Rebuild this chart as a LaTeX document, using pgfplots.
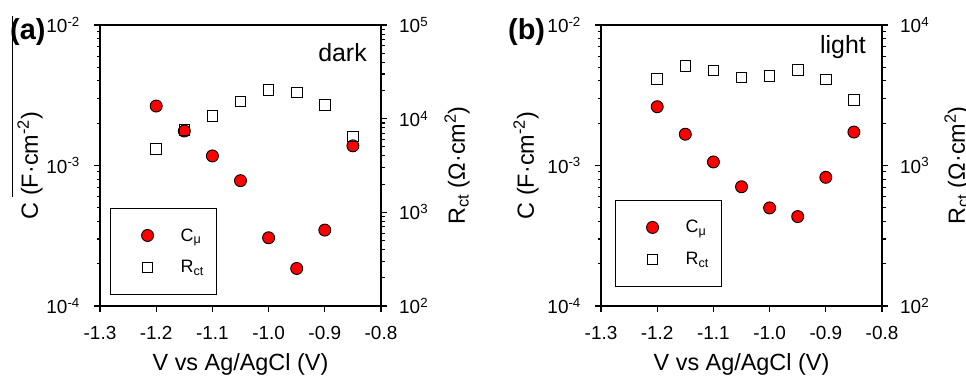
\documentclass[border=0pt]{standalone}
\usepackage{pgfplots}
\pgfplotsset{compat=1.18}
\usepackage{fontspec}
\setmainfont{Liberation Sans}
\newcommand{\fs}[1]{\fontsize{#1}{#1}\selectfont}
\pgfplotsset{
  every axis/.append style={scale only axis, width=281bp, height=281bp,
    xmin=-1.3, xmax=-0.8, clip=false,
    axis line style={line width=1.1bp},
    major tick length=6bp, minor tick length=3.5bp, tick align=outside,
    tick style={black, line width=1.1bp},
    every tick label/.append style={font=\fs{19}, inner sep=0pt},
    every axis label/.append style={font=\fs{23.5}}},
  mylegimg/.style={legend image code/.code={\path[draw=none,fill=none] (0bp,-10bp) rectangle (30bp,10bp);
      \draw[##1] plot coordinates {(24bp,0bp)};}},
  leftticks/.style={xticklabel style={yshift=-14bp}, yticklabel style={xshift=-14bp}},
  rightticks/.style={yticklabel style={xshift=12bp}},
}
\begin{document}
\begin{tikzpicture}[x=1bp,y=1bp]
\useasboundingbox (0,0) rectangle (966,378);
\draw[line width=0.8bp] (12,362) -- (12,181);
\node[anchor=north west, inner sep=0pt, font=\bfseries\fs{29}] at (10,360) {(a)};
\node[anchor=north west, inner sep=0pt, font=\bfseries\fs{29}] at (508,360) {(b)};

% ---------- panel (a) ----------
\begin{semilogyaxis}[at={(100bp,72bp)}, anchor=south west, leftticks,
    ymin=1e-4, ymax=1e-2, xtick pos=bottom, ytick pos=left,
    xtick={-1.3,-1.2,-1.1,-1.0,-0.9,-0.8},
    xticklabels={-1.3,-1.2,-1.1,-1.0,-0.9,-0.8},
    ytick={1e-4,1e-3,1e-2},
    yticklabels={10\textsuperscript{-4},10\textsuperscript{-3},10\textsuperscript{-2}},
    xlabel={V vs Ag/AgCl (V)},
    ylabel={C (F·cm\textsuperscript{-2})},
    xlabel style={at={(rel axis cs:0.5,0)}, anchor=north, inner sep=0pt, yshift=-47bp},
    ylabel style={at={(rel axis cs:0,0.5)}, anchor=center, yshift=70bp}]
\addplot[only marks, mark=*, mark size=6bp, mark options={draw=black, fill=red, line width=0.9bp}] table {
x y
-1.20 2.65e-3
-1.15 1.76e-3
-1.10 1.17e-3
-1.05 7.8e-4
-1.00 3.06e-4
-0.95 1.85e-4
-0.90 3.47e-4
-0.85 1.38e-3
};
\node[anchor=north east, inner sep=0pt, font=\fs{25}] at (rel axis cs:0.95,0.936) {dark};
\end{semilogyaxis}
\begin{semilogyaxis}[at={(100bp,72bp)}, anchor=south west, rightticks,
  axis x line=none, axis y line*=right, ytick pos=right,
  ymin=1e2, ymax=1e5, ytick={1e2,1e3,1e4,1e5},
  yticklabels={10\textsuperscript{2},10\textsuperscript{3},10\textsuperscript{4},10\textsuperscript{5}},
  ylabel={R\textsubscript{ct} (Ω·cm\textsuperscript{2})},
  ylabel style={at={(rel axis cs:1,0.5)}, anchor=center, yshift=-76bp},
  legend cell align=left,
  legend style={at={(rel axis cs:0.0356,0.039)}, anchor=south west, draw=black, line width=1.1bp,
      font=\fs{18}, inner xsep=13bp, inner ysep=17bp, row sep=12bp,
      nodes={inner sep=0pt},
      /tikz/every odd column/.append style={column sep=27bp}}]
\addlegendimage{only marks, mark=*, mark size=6bp, mark options={draw=black, fill=red, line width=0.9bp}, mylegimg}
\addlegendentry{C\textsubscript{μ}}
\addplot[only marks, mark=square, mark size=5.3bp, mark options={draw=black, line width=1bp}, mylegimg] table {
x y
-1.20 4710
-1.15 7570
-1.10 10600
-1.05 15300
-1.00 20100
-0.95 19000
-0.90 13900
-0.85 6430
};
\addlegendentry{R\textsubscript{ct}}
\end{semilogyaxis}

% ---------- panel (b) ----------
\begin{semilogyaxis}[at={(601bp,72bp)}, anchor=south west, leftticks,
    ymin=1e-4, ymax=1e-2, xtick pos=bottom, ytick pos=left,
    xtick={-1.3,-1.2,-1.1,-1.0,-0.9,-0.8},
    xticklabels={-1.3,-1.2,-1.1,-1.0,-0.9,-0.8},
    ytick={1e-4,1e-3,1e-2},
    yticklabels={10\textsuperscript{-4},10\textsuperscript{-3},10\textsuperscript{-2}},
    xlabel={V vs Ag/AgCl (V)},
    ylabel={C (F·cm\textsuperscript{-2})},
    xlabel style={at={(rel axis cs:0.5,0)}, anchor=north, inner sep=0pt, yshift=-47bp},
    ylabel style={at={(rel axis cs:0,0.5)}, anchor=center, yshift=75bp}]
\addplot[only marks, mark=*, mark size=6bp, mark options={draw=black, fill=red, line width=0.9bp}] table {
x y
-1.20 2.62e-3
-1.15 1.67e-3
-1.10 1.06e-3
-1.05 7.06e-4
-1.00 4.99e-4
-0.95 4.33e-4
-0.90 8.24e-4
-0.85 1.73e-3
};
\node[anchor=north east, inner sep=0pt, font=\fs{25}] at (rel axis cs:0.943,0.964) {light};
\end{semilogyaxis}
\begin{semilogyaxis}[at={(601bp,72bp)}, anchor=south west, rightticks,
  axis x line=none, axis y line*=right, ytick pos=right,
  ymin=1e2, ymax=1e4, ytick={1e2,1e3,1e4},
  yticklabels={10\textsuperscript{2},10\textsuperscript{3},10\textsuperscript{4}},
  ylabel={R\textsubscript{ct} (Ω·cm\textsuperscript{2})},
  ylabel style={at={(rel axis cs:1,0.5)}, anchor=center, yshift=-75bp},
  legend cell align=left,
  legend style={at={(rel axis cs:0.0498,0.0676)}, anchor=south west, draw=black, line width=1.1bp,
      font=\fs{18}, inner xsep=13bp, inner ysep=17bp, row sep=12bp,
      nodes={inner sep=0pt},
      /tikz/every odd column/.append style={column sep=27bp}}]
\addlegendimage{only marks, mark=*, mark size=6bp, mark options={draw=black, fill=red, line width=0.9bp}, mylegimg}
\addlegendentry{C\textsubscript{μ}}
\addplot[only marks, mark=square, mark size=5.3bp, mark options={draw=black, line width=1bp}, mylegimg] table {
x y
-1.20 4130
-1.15 5130
-1.10 4730
-1.05 4220
-1.00 4320
-0.95 4790
-0.90 4100
-0.85 2930
};
\addlegendentry{R\textsubscript{ct}}
\end{semilogyaxis}
\end{tikzpicture}
\end{document}
